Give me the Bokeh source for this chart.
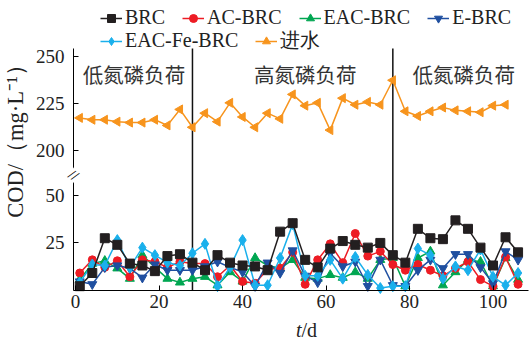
import math
from bokeh.plotting import figure
from bokeh.models import Range1d, FixedTicker, Legend, LegendItem, Label
from bokeh.embed import file_html
from bokeh.resources import INLINE

# ---------------- data ----------------
days = [1, 4, 7, 10, 13, 16, 19, 22, 25, 28, 31, 34, 37, 40, 43, 46, 49, 52,
        55, 58, 61, 64, 67, 70, 73, 76, 79, 82, 85, 88, 91, 94, 97, 100, 103, 106]
days_in = [1, 4, 7, 10, 13, 16, 19, 22, 25, 28, 31, 34, 37, 40, 43, 46, 49, 52,
           55, 58, 61, 64, 67, 70, 73, 76, 79, 82, 85, 88, 91, 94, 97, 100, 103]

brc = [2, 9, 27.5, 24, 14, 13, 10, 18, 19, 14.5, 10.5, 18.5, 14.5, 13, 12.5, 10.5, 31, 35.5,
       16, 12, 22, 26, 24, 22.5, 25, 18.5, 14.5, 32.5, 27.5, 27, 37, 32.5, 22.5, 13, 28, 20]
ac_brc = [9, 16, 12, 15.5, 7, 16, 15, 12, 15, 14, 14, 7, 13, 4.5, 3.5, 11, 11.5, 20,
          3, 16, 24.5, 14.5, 30, 18, 20.5, 13.5, 10.5, 13.5, 10.5, 7.5, 11.5, 15, 5.5, 2, 17.5, 3]
eac_brc = [5.5, 14, 15.5, 11.5, 6, 18.5, 12, 6, 4, 6, 7, 2.5, 9.5, 4.5, 17, 13, 11.5, 16,
           6.5, 6, 8, 6.5, 9.5, 6, 16, 17, 2, 17, 20.5, 2.5, 9.5, 16, 15, 2, 17, 5.5]
e_brc = [4.5, 3, 12, 13, 11.5, 6.5, 13.5, 10.5, 10.5, 10.5, 12.5, 15, 12, 9.5, 2, 14.5, 9, 21,
         7.5, 4, 19.5, 12.5, 15, 2, 16, 2.5, 2, 10.5, 16, 11.5, 19, 19, 12, 3.5, 20.5, 16]
eac_fe_brc = [4, 13.5, 13, 26.5, 12, 22.5, 18.5, 14.5, 13, 19.5, 24.5, 2, 12, 26.5, 2.5, 2.5, 17, 35,
              7.5, 7.5, 16, 6, 17.5, 8, 1, 2, 2, 22, 18.5, 6, 12.5, 10.5, 21.5, 7, 2.5, 9]
influent = [217.5, 216.5, 216.5, 215.5, 215, 215, 216.5, 213.5, 222, 212.5, 220, 215.5, 225.5, 218,
            212.5, 220, 217, 230, 224, 225.5, 211, 228, 224.5, 226, 224.5, 237.5, 221, 218.5, 221,
            223, 221.5, 221, 220.5, 224, 224.5]

x_ticks = [0, 20, 40, 60, 80, 100]
y_tick_vals = [25, 50, 200, 225, 250]
phase_bounds = [28, 76]
phase_names = ["低氮磷负荷", "高氮磷负荷", "低氮磷负荷"]
phase_label_x = [14, 55, 93]
phase_label_y = 241

# broken axis: upper segment shifted down by OFFSET
OFFSET = 126
def fold(v):
    return v if v < 100 else v - OFFSET

influent_plot = [fold(v) for v in influent]

# ---------------- layout (figure pixels) ----------------
W, H = 530, 339
AREA_L, AREA_R, AREA_T, AREA_B = 73, 528, 48, 290
X_LO, X_HI = -0.5, 108.5
Y_LO, Y_HI = -0.3, 128.4
sx = (AREA_R - AREA_L) / (X_HI - X_LO)
sy = (AREA_B - AREA_T) / (Y_HI - Y_LO)
x_range = Range1d(X_LO - AREA_L / sx, X_HI + (W - AREA_R) / sx)
y_range = Range1d(Y_LO - (H - AREA_B) / sy, Y_HI + AREA_T / sy)

SERIF = "Liberation Serif"
CJK = "Noto Sans CJK SC"
TXT = "#222222"

p = figure(width=W, height=H, output_backend="svg", toolbar_location=None,
           x_range=x_range, y_range=y_range,
           min_border_left=0, min_border_right=0, min_border_top=0, min_border_bottom=0)
p.outline_line_color = None
p.xgrid.visible = False
p.ygrid.visible = False
p.background_fill_color = "white"

for ax in (p.xaxis[0], p.yaxis[0]):
    ax.axis_line_color = "black"
    ax.axis_line_width = 1
    ax.major_tick_in = 5
    ax.major_tick_out = 0
    ax.minor_tick_in = 0
    ax.minor_tick_out = 0
    ax.major_tick_line_color = "black"
    ax.major_label_text_font = SERIF
    ax.major_label_text_font_size = "19px"
    ax.major_label_text_color = TXT

p.xaxis.fixed_location = Y_LO
p.xaxis.bounds = (X_LO, X_HI)
p.xaxis.ticker = FixedTicker(ticks=x_ticks)
p.xaxis.major_label_standoff = 4

y_pos = [fold(v) for v in y_tick_vals]
p.yaxis.fixed_location = X_LO
p.yaxis.bounds = (Y_LO, Y_HI)
p.yaxis.ticker = FixedTicker(ticks=y_pos)
p.yaxis.major_label_overrides = {pos: str(v) for pos, v in zip(y_pos, y_tick_vals)}
p.yaxis.major_label_standoff = 9

# phase boundaries
p.segment(x0=phase_bounds, y0=[Y_LO] * len(phase_bounds), x1=phase_bounds,
          y1=[Y_HI] * len(phase_bounds), line_color="#111111", line_width=1.5)

for name, xx in zip(phase_names, phase_label_x):
    p.add_layout(Label(x=xx, y=fold(phase_label_y), text=name, text_align="center",
                       text_baseline="middle", text_font=CJK, text_font_size="20.5px",
                       text_color="#333333"))

# series
series = {
    "BRC": (days, brc, "#231f20", "square", 9, 0),
    "AC-BRC": (days, ac_brc, "#ed1c24", "circle", 8, 0),
    "EAC-BRC": (days, eac_brc, "#00a651", "triangle", 9, 0),
    "E-BRC": (days, e_brc, "#1f4fa0", "inverted_triangle", 9, 0),
    "EAC-Fe-BRC": (days, eac_fe_brc, "#1ab0ec", "diamond", 11, 0),
    "进水": (days_in, influent_plot, "#f7941d", "triangle", 9, math.pi / 2),
}
draw_order = ["进水", "EAC-BRC", "AC-BRC", "E-BRC", "EAC-Fe-BRC", "BRC"]
rends = {}
for name in draw_order:
    xs, ys, col, mk, sz, ang = series[name]
    lr = p.line(x=xs, y=ys, line_color=col, line_width=1.5)
    sr = p.scatter(x=xs, y=ys, marker=mk, size=sz, angle=ang, fill_color=col, line_color=col)
    rends[name] = [lr, sr]

def make_legend(names, vx, vy):
    leg = Legend(items=[LegendItem(label=n, renderers=rends[n]) for n in names],
                 location=(vx, vy), orientation="horizontal",
                 label_text_font=SERIF, label_text_font_size="20px", label_text_color=TXT,
                 glyph_width=22, glyph_height=20, label_height=20, label_standoff=3,
                 spacing=17, padding=0, margin=0, border_line_color=None,
                 background_fill_alpha=0)
    p.add_layout(leg, "center")

make_legend(["BRC", "AC-BRC", "EAC-BRC", "E-BRC"], 100, 310)
make_legend(["EAC-Fe-BRC", "进水"], 100, 285)

# axis titles
p.add_layout(Label(x=15, y=204, x_units="screen", y_units="screen", text="COD/（mg·L⁻¹）",
                   angle=math.pi / 2, text_align="center", text_baseline="middle",
                   text_font=SERIF, text_font_size="22.5px", text_color=TXT))
p.add_layout(Label(x=301, y=10, x_units="screen", y_units="screen", text="t",
                   text_align="right", text_baseline="middle", text_font=SERIF,
                   text_font_style="italic", text_font_size="20px", text_color=TXT))
p.add_layout(Label(x=301, y=10, x_units="screen", y_units="screen", text="/d",
                   text_align="left", text_baseline="middle", text_font=SERIF,
                   text_font_size="20px", text_color=TXT))

# axis break mark
p.add_layout(Label(x=X_LO, y=61, text="//", text_align="center", text_baseline="middle",
                   angle=-0.6, text_font=SERIF, text_font_size="15px", text_color="black",
                   background_fill_color="white"))

open("out.html", "w").write(file_html(p, INLINE))
